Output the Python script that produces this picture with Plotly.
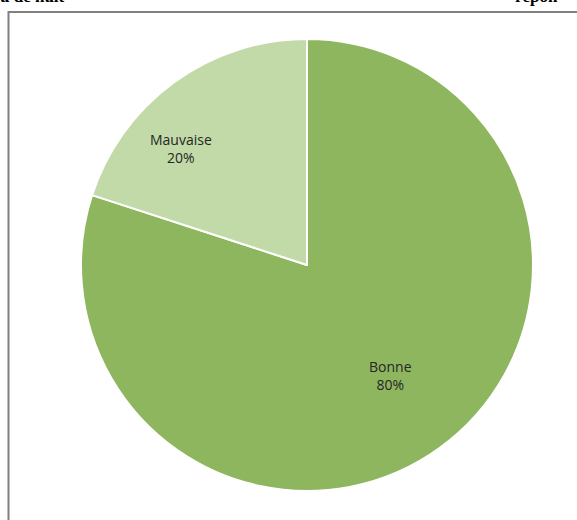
import plotly.graph_objects as go

labels = ["Bonne", "Mauvaise"]
values = [80, 20]
colors = ["#8DB65E", "#C1DAA7"]

# label anchor points (paper coords), layout only
label_pos = {"Bonne": (390 / 577, 1 - 375 / 520), "Mauvaise": (181 / 577, 1 - 148 / 520)}

fig = go.Figure()
fig.add_trace(go.Pie(
    labels=labels,
    values=values,
    sort=False,
    direction="clockwise",
    rotation=0,
    marker=dict(colors=colors, line=dict(color="white", width=2)),
    textinfo="none",
    domain=dict(x=[0.1404, 0.9237], y=[0.0558, 0.925]),
    showlegend=False,
    hoverinfo="label+percent",
))

total = sum(values)
for lab, val in zip(labels, values):
    x, y = label_pos[lab]
    fig.add_annotation(text=f"{lab}<br>{round(100 * val / total)}%",
                       xref="paper", yref="paper", x=x, y=y,
                       xanchor="center", yanchor="middle", showarrow=False,
                       font=dict(family="Open Sans", size=14, color="#262626"))

fig.add_shape(type="rect", xref="paper", yref="paper",
              x0=8.5/577, x1=1.02, y0=-0.02, y1=1-12/520,
              line=dict(color="#808080", width=2), fillcolor="rgba(0,0,0,0)")

fig.add_annotation(text="<b>u de nuit</b>", xref="paper", yref="paper",
                   x=-2/577, y=1-8/520, xanchor="left", yanchor="bottom",
                   showarrow=False,
                   font=dict(family="Liberation Serif", size=17, color="black"))
fig.add_annotation(text="<b>répon</b>", xref="paper", yref="paper",
                   x=513/577, y=1-8/520, xanchor="left", yanchor="bottom",
                   showarrow=False,
                   font=dict(family="Liberation Serif", size=17, color="black"))

fig.update_layout(width=577, height=520, margin=dict(l=0, r=0, t=0, b=0),
                  paper_bgcolor="white", plot_bgcolor="white")

fig.write_html("out.html")
